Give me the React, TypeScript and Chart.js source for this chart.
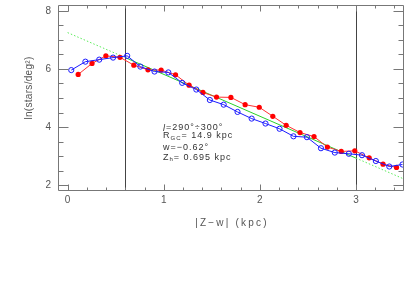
import React, { useEffect, useRef } from "react";
import { Chart, registerables } from "chart.js";

Chart.register(...registerables);

const redX = [0.11, 0.254, 0.398, 0.545, 0.689, 0.836, 0.973, 1.123, 1.264, 1.408, 1.549, 1.699, 1.847, 1.994, 2.135, 2.274, 2.418, 2.564, 2.703, 2.847, 2.988, 3.138, 3.282, 3.422];
const redY = [5.81, 6.19, 6.45, 6.40, 6.13, 5.97, 5.96, 5.80, 5.44, 5.19, 5.03, 5.02, 4.77, 4.68, 4.37, 4.06, 3.81, 3.67, 3.31, 3.16, 3.18, 2.94, 2.72, 2.61];

const blueX = [0.038, 0.185, 0.329, 0.473, 0.62, 0.757, 0.904, 1.048, 1.192, 1.339, 1.48, 1.624, 1.768, 1.915, 2.059, 2.205, 2.35, 2.49, 2.636, 2.78, 2.926, 3.063, 3.207, 3.347, 3.484];
const blueY = [5.96, 6.25, 6.32, 6.39, 6.45, 6.08, 5.91, 5.88, 5.52, 5.29, 4.93, 4.77, 4.52, 4.29, 4.12, 3.94, 3.68, 3.65, 3.27, 3.12, 3.08, 3.03, 2.83, 2.64, 2.71];

const fitX = [0, 0.6, 3.0, 3.5];
const fitY = [7.25, 6.39, 2.93, 2.21];

const markerLines = [0.6, 3.0];

const xMajor = [0, 1, 2, 3];
const xMinor = [0.2, 0.4, 0.6, 0.8, 1.2, 1.4, 1.6, 1.8, 2.2, 2.4, 2.6, 2.8, 3.2, 3.4];
const yMajor = [2, 4, 6, 8];
const yMinor = [2.5, 3, 3.5, 4.5, 5, 5.5, 6.5, 7, 7.5];

const xLabel = "|Z\u2212w| (kpc)";
const yLabel = "ln(stars/deg\u00B2)";

type Run = { t: string; size: number; dy: number; italic?: boolean };
const annotation: Run[][] = [
  [
    { t: "l", size: 9, dy: 0, italic: true },
    { t: "=290\u00B0\u00F7300\u00B0", size: 9, dy: 0 },
  ],
  [
    { t: "R", size: 9, dy: 0 },
    { t: "GC", size: 6, dy: 2 },
    { t: "= 14.9 kpc", size: 9, dy: 0 },
  ],
  [{ t: "w=\u22120.62\u00B0", size: 9, dy: 0 }],
  [
    { t: "Z", size: 9, dy: 0 },
    { t: "h", size: 6, dy: 2 },
    { t: "= 0.695 kpc", size: 9, dy: 0 },
  ],
];
const annotationY = [128, 136, 148, 157.5];

const framePlugin = {
  id: "framePlugin",
  beforeDatasetsDraw(chart: any) {
    const ctx = chart.ctx;
    const xs = chart.scales.x;
    const { top, bottom } = chart.chartArea;
    ctx.save();
    ctx.strokeStyle = "#444";
    ctx.lineWidth = 1;
    markerLines.forEach((v) => {
      const px = Math.round(xs.getPixelForValue(v)) + 0.5;
      ctx.beginPath();
      ctx.moveTo(px, top);
      ctx.lineTo(px, bottom);
      ctx.stroke();
    });
    ctx.restore();
  },
  afterDraw(chart: any) {
    const ctx = chart.ctx;
    const xs = chart.scales.x;
    const ys = chart.scales.y;
    const { left, right, top, bottom } = chart.chartArea;
    ctx.save();
    ctx.strokeStyle = "#777";
    ctx.lineWidth = 1;
    const L = Math.round(left) + 0.5;
    const R = Math.round(right) - 0.5;
    const T = Math.round(top) + 0.5;
    const B = Math.round(bottom) + 0.5;
    ctx.beginPath();
    ctx.moveTo(L, T);
    ctx.lineTo(R, T);
    ctx.lineTo(R, B);
    ctx.lineTo(L, B);
    ctx.closePath();
    ctx.stroke();

    const xt = (v: number, len: number) => {
      const px = Math.round(xs.getPixelForValue(v)) + 0.5;
      ctx.beginPath();
      ctx.moveTo(px, B);
      ctx.lineTo(px, B - len);
      ctx.moveTo(px, T);
      ctx.lineTo(px, T + len);
      ctx.stroke();
    };
    const yt = (v: number, len: number) => {
      const py = Math.round(ys.getPixelForValue(v)) + 0.5;
      ctx.beginPath();
      ctx.moveTo(L, py);
      ctx.lineTo(L + len, py);
      ctx.moveTo(R, py);
      ctx.lineTo(R - len, py);
      ctx.stroke();
    };
    xMajor.forEach((v) => xt(v, 6));
    xMinor.forEach((v) => xt(v, 3));
    yMajor.forEach((v) => yt(v, 10));
    yMinor.forEach((v) => yt(v, 5));

    ctx.fillStyle = "#555";
    ctx.font = "10px 'Liberation Sans', Arial, sans-serif";
    ctx.textAlign = "center";
    ctx.textBaseline = "middle";
    xMajor.forEach((v) => {
      ctx.fillText(String(v), xs.getPixelForValue(v), bottom + 10);
    });
    ctx.textAlign = "right";
    yMajor.forEach((v) => {
      ctx.fillText(String(v), left - 7, ys.getPixelForValue(v));
    });

    // axis titles
    ctx.textAlign = "center";
    (ctx as any).letterSpacing = "2.2px";
    ctx.font = "10px 'Liberation Sans', Arial, sans-serif";
    ctx.fillText(xLabel, xs.getPixelForValue(1.7) + 1, bottom + 33);
    (ctx as any).letterSpacing = "0.3px";
    ctx.save();
    ctx.translate(29, 88);
    ctx.rotate(-Math.PI / 2);
    ctx.fillText(yLabel, 0, 0);
    ctx.restore();

    // annotation
    ctx.fillStyle = "#333";
    ctx.textAlign = "left";
    ctx.textBaseline = "middle";
    (ctx as any).letterSpacing = "1px";
    annotation.forEach((line, i) => {
      let x = 163;
      const y = annotationY[i];
      line.forEach((r) => {
        ctx.font = `${r.italic ? "italic " : ""}${r.size}px 'Liberation Sans', Arial, sans-serif`;
        ctx.fillText(r.t, x, y + r.dy);
        x += ctx.measureText(r.t).width;
      });
    });
    ctx.restore();
  },
};

export default function App() {
  const ref = useRef<HTMLCanvasElement | null>(null);
  useEffect(() => {
    if (!ref.current) return;
    const chart = new Chart(ref.current, {
      type: "line",
      data: {
        datasets: [
          {
            label: "blue",
            data: blueX.map((x, i) => ({ x, y: blueY[i] })),
            borderColor: "#1a1aff",
            backgroundColor: "rgba(0,0,0,0)",
            borderWidth: 1,
            pointRadius: 2.6,
            pointBorderWidth: 1,
            pointBorderColor: "#1a1aff",
            pointBackgroundColor: "rgba(0,0,0,0)",
            order: 1,
          },
          {
            label: "red",
            data: redX.map((x, i) => ({ x, y: redY[i] })),
            borderColor: "#ff3030",
            backgroundColor: "#ff0000",
            borderWidth: 1,
            pointRadius: 2.6,
            pointBorderWidth: 0,
            pointBackgroundColor: "#ff0000",
            order: 2,
          },
          {
            label: "fit",
            data: fitX.map((x, i) => ({ x, y: fitY[i] })),
            borderColor: "rgb(40,210,40)",
            borderWidth: 1,
            pointRadius: 0,
            order: 3,
            segment: {
              borderDash: (c: any) =>
                c.p0.parsed.x < 0.59 || c.p0.parsed.x > 2.99 ? [1.5, 2] : undefined,
              borderColor: (c: any) =>
                c.p0.parsed.x < 0.59 || c.p0.parsed.x > 2.99 ? "rgb(90,235,90)" : undefined,
            },
          } as any,
        ],
      },
      options: {
        animation: false,
        responsive: false,
        layout: { padding: { left: 0, right: 0, top: 0, bottom: 0 } },
        plugins: { legend: { display: false }, tooltip: { enabled: false } },
        scales: {
          x: {
            type: "linear",
            min: -0.1,
            max: 3.5,
            grid: { display: false },
            border: { display: false },
            ticks: { display: false },
            afterFit: (s: any) => {
              s.height = 110;
            },
          },
          y: {
            type: "linear",
            min: 1.832,
            max: 8.201,
            grid: { display: false },
            border: { display: false },
            ticks: { display: false },
            afterFit: (s: any) => {
              s.width = 58;
            },
          },
        },
      },
      plugins: [framePlugin],
    });
    return () => chart.destroy();
  }, []);
  return (
    <div style={{ position: "absolute", left: 0, top: 0, width: 409, height: 300 }}>
      <canvas ref={ref} width={409} height={300} style={{ display: "block" }} />
    </div>
  );
}
